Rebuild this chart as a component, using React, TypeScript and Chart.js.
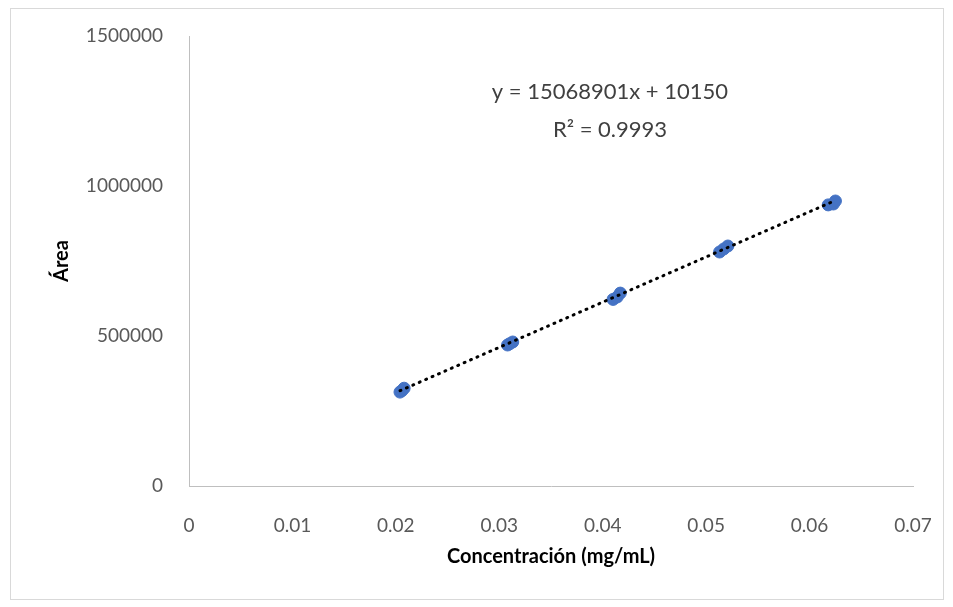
import { useEffect, useRef } from "react";
import { Chart, registerables } from "chart.js";

Chart.register(...registerables);

const concentracion = [0.0204, 0.0206, 0.0208, 0.0308, 0.031, 0.0313, 0.041, 0.0414, 0.0417, 0.0513, 0.0517, 0.0521, 0.0618, 0.0623, 0.0625];
const area = [313000, 318000, 326000, 470000, 474000, 480000, 622000, 630000, 643000, 780000, 790000, 800000, 937000, 940000, 950000];
const slope = 15068901;
const intercept = 10150;
const xTicks = [0, 0.01, 0.02, 0.03, 0.04, 0.05, 0.06, 0.07];
const yTicks = [0, 500000, 1000000, 1500000];

const labelPlugin = {
  id: "eqLabel",
  afterDraw(chart: any) {
    const { ctx, scales } = chart;
    const x = scales.x.getPixelForValue(0.0407);
    ctx.save();
    ctx.fillStyle = "#404040";
    ctx.font = "22px Lato, sans-serif";
    ctx.textAlign = "center";
    ctx.textBaseline = "middle";
    ctx.fillText("y = 15068901x + 10150", x, scales.y.getPixelForValue(1313000));
    ctx.fillText("R² = 0.9993", x, scales.y.getPixelForValue(1187000));
    ctx.restore();
  },
};

export default function App() {
  const ref = useRef<HTMLCanvasElement | null>(null);

  useEffect(() => {
    if (!ref.current) return;
    const xMin = Math.min(...concentracion);
    const xMax = Math.max(...concentracion);
    const font = { family: "Lato, sans-serif", size: 19 };
    const chart = new Chart(ref.current, {
      type: "scatter",
      data: {
        datasets: [
          {
            type: "line",
            data: [xMin, xMax].map((x) => ({ x, y: slope * x + intercept })),
            borderColor: "#000",
            borderWidth: 3,
            borderDash: [1, 6],
            borderCapStyle: "round",
            pointRadius: 0,
            order: 0,
          },
          {
            data: concentracion.map((x, i) => ({ x, y: area[i] })),
            backgroundColor: "#4472c4",
            borderColor: "#4472c4",
            pointRadius: 6,
            order: 1,
          },
        ] as any,
      },
      options: {
        animation: false,
        responsive: false,
        layout: { padding: { top: 36, right: 40, left: 0, bottom: 0 } },
        plugins: { legend: { display: false }, tooltip: { enabled: false } },
        scales: {
          x: {
            type: "linear",
            min: 0,
            max: 0.07,
            afterBuildTicks: (s: any) => { s.ticks = xTicks.map((v) => ({ value: v })); },
            afterFit: (s: any) => { s.height = 121; },
            grid: { display: false },
            border: { display: true, color: "#bfbfbf" },
            ticks: { color: "#595959", font, padding: 20, callback: (v: any) => String(Math.round(v * 100) / 100) },
            title: { display: true, text: "Concentración (mg/mL)", color: "#000", font: { ...font, size: 20, weight: "bold" }, padding: { top: 0, bottom: 38 } },
          },
          y: {
            type: "linear",
            min: 0,
            max: 1500000,
            afterBuildTicks: (s: any) => { s.ticks = yTicks.map((v) => ({ value: v })); },
            afterFit: (s: any) => { s.width = 189; },
            grid: { display: false },
            border: { display: true, color: "#bfbfbf" },
            ticks: { color: "#595959", font, padding: 18, callback: (v: any) => String(v) },
            title: { display: true, text: "Área", color: "#000", font: { ...font, size: 20, weight: "bold" }, padding: { top: 50 } },
          },
        },
      },
      plugins: [labelPlugin],
    });
    return () => chart.destroy();
  }, []);

  return (
    <div style={{ position: "absolute", left: 0, top: 0, width: 953, height: 607, background: "#fff" }}>
      <div style={{ position: "absolute", left: 10, top: 8, width: 932, height: 590, border: "1px solid #d9d9d9" }} />
      <canvas ref={ref} width={953} height={607} style={{ position: "absolute", left: 0, top: 0 }} />
    </div>
  );
}
